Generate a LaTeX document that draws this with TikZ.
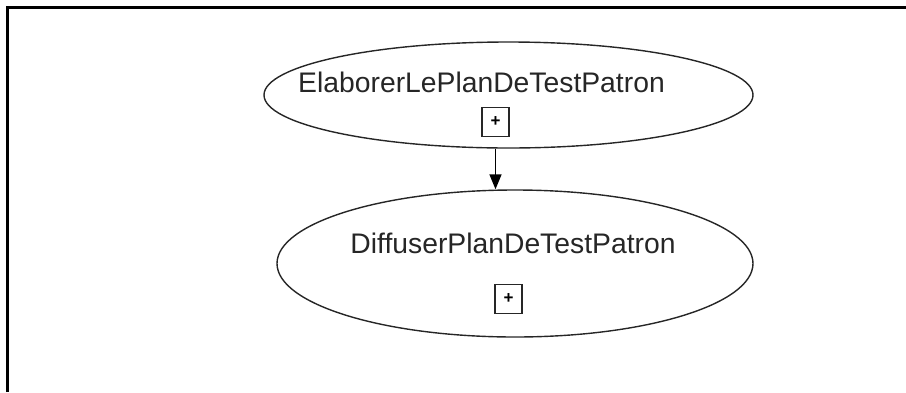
\documentclass[tikz,border=0pt]{standalone}
\usepackage{fontspec}
\setmainfont{Liberation Sans}
\usetikzlibrary{positioning,shapes.geometric,arrows.meta}

\begin{document}
\begin{tikzpicture}[x=1pt, y=-1pt,
    taskellipse/.style={ellipse, draw=black!85, line width=1.4pt, inner sep=0pt},
    tasklabel/.style={inner sep=0pt, anchor=base, text=black!85,
                      font=\fontsize{28.3}{34}\selectfont},
    expandbox/.style={rectangle, draw=black!85, line width=1.5pt,
                      minimum width=27pt, minimum height=29pt, inner sep=0pt,
                      font=\fontsize{17}{17}\selectfont\bfseries},
    arrow/.style={-{Triangle[width=12pt,length=15pt]}, line width=1.5pt}
]
\useasboundingbox (0,0) rectangle (906,392);

% frame
\draw[line width=3pt] (7.5,392) -- (7.5,7) -- (906,7);

% T1
\node[taskellipse, minimum width=489pt, minimum height=106pt] (elaborer) at (508.5,95) {};
\node[tasklabel] (elaborerlabel) at (481.5,92) {ElaborerLePlanDeTestPatron};
\node[expandbox] (plus1) at (495.5,122) {+};

% T2
\node[taskellipse, minimum width=476pt, minimum height=147pt] (diffuser) at (515,263.5) {};
\node[tasklabel] (diffuserlabel) at (513,253) {DiffuserPlanDeTestPatron};
\node[expandbox] (plus2) at (508.5,299) {+};

\draw[arrow] (plus1 |- elaborer.south) -- (plus1 |- diffuser.north);

\end{tikzpicture}
\end{document}
